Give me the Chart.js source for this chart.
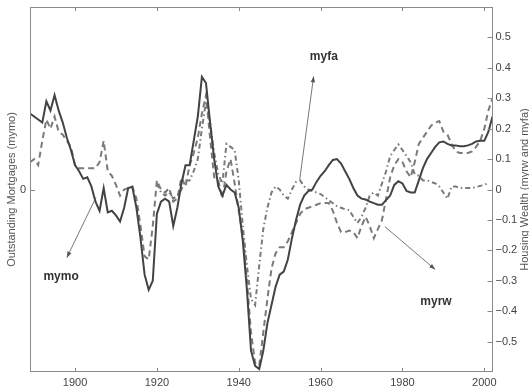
<!DOCTYPE html>
<html>
<head>
<meta charset="utf-8">
<script src="https://cdn.jsdelivr.net/npm/chart.js@4/dist/chart.umd.min.js"></script>
<style>
  html, body { margin: 0; padding: 0; background: #fff; }
  #wrap { width: 529px; height: 386px; }
</style>
</head>
<body>
<div id="wrap"><canvas id="c" width="529" height="386"></canvas></div>
<script>
/* ─── Data ─────────────────────────────────────────────── */

const years = [
  1889, 1890, 1891, 1892, 1893, 1894, 1895, 1896, 1897, 1898, 1899,
  1900, 1901, 1902, 1903, 1904, 1905, 1906, 1907, 1908, 1909,
  1910, 1911, 1912, 1913, 1914, 1915, 1916, 1917, 1918, 1919,
  1920, 1921, 1922, 1923, 1924, 1925, 1926, 1927, 1928, 1929,
  1930, 1931, 1932, 1933, 1934, 1935, 1936, 1937, 1938, 1939,
  1940, 1941, 1942, 1943, 1944, 1945, 1946, 1947, 1948, 1949,
  1950, 1951, 1952, 1953, 1954, 1955, 1956, 1957, 1958, 1959,
  1960, 1961, 1962, 1963, 1964, 1965, 1966, 1967, 1968, 1969,
  1970, 1971, 1972, 1973, 1974, 1975, 1976, 1977, 1978, 1979,
  1980, 1981, 1982, 1983, 1984, 1985, 1986, 1987, 1988, 1989,
  1990, 1991, 1992, 1993, 1994, 1995, 1996, 1997, 1998, 1999,
  2000, 2001, 2002
];

// Outstanding mortgages (solid)
const mymo = [
  0.25, 0.24, 0.23, 0.22, 0.29, 0.26, 0.31, 0.26, 0.22, 0.17, 0.13,
  0.08, 0.06, 0.035, 0.04, 0.01, -0.04, -0.07, 0.005, -0.075, -0.07,
  -0.085, -0.105, -0.06, 0.005, 0.009, -0.06, -0.16, -0.28, -0.33, -0.30,
  -0.08, -0.04, -0.03, -0.04, -0.12, -0.06, 0.02, 0.08, 0.08, 0.16,
  0.24, 0.37, 0.35, 0.22, 0.10, 0.01, -0.02, 0.015, 0.00, -0.01,
  -0.06, -0.17, -0.33, -0.53, -0.58, -0.59, -0.53, -0.44, -0.38, -0.32,
  -0.28, -0.27, -0.23, -0.16, -0.10, -0.05, -0.02, -0.005, 0.00, 0.025,
  0.045, 0.06, 0.08, 0.097, 0.10, 0.085, 0.06, 0.035, 0.005, -0.02,
  -0.03, -0.033, -0.04, -0.045, -0.05, -0.05, -0.035, -0.02, 0.015, 0.027,
  0.02, -0.005, -0.01, -0.01, 0.03, 0.07, 0.10, 0.12, 0.14, 0.155,
  0.158, 0.15, 0.145, 0.145, 0.142, 0.142, 0.145, 0.15, 0.158, 0.16,
  0.16, 0.19, 0.24
];

// Housing wealth, myrw (dashed)
const myrw = [
  0.09, 0.10, 0.08, 0.16, 0.23, 0.20, 0.24, 0.19, 0.18, 0.16, 0.14,
  0.08, 0.07, 0.07, 0.07, 0.07, 0.07, 0.09, 0.16, 0.06, 0.045,
  0.015, -0.02, 0.00, 0.005, 0.01, -0.03, -0.12, -0.22, -0.23, -0.12,
  0.03, 0.00, -0.01, 0.005, -0.04, -0.03, 0.04, 0.01, 0.08, 0.12,
  0.17, 0.25, 0.31, 0.17, 0.04, 0.03, -0.03, 0.06, 0.10, 0.02,
  -0.07, -0.15, -0.30, -0.47, -0.57, -0.58, -0.47, -0.36, -0.26, -0.21,
  -0.19, -0.19, -0.17, -0.14, -0.11, -0.08, -0.065, -0.06, -0.055, -0.05,
  -0.045, -0.044, -0.044, -0.07, -0.11, -0.14, -0.14, -0.135, -0.14, -0.16,
  -0.12, -0.09, -0.12, -0.16, -0.13, -0.10, -0.03, 0.04, 0.08, 0.10,
  0.09, 0.06, 0.04, 0.09, 0.15, 0.17, 0.19, 0.21, 0.22, 0.225,
  0.19, 0.18, 0.15, 0.125, 0.12, 0.12, 0.12, 0.125, 0.14, 0.16,
  0.20, 0.26, 0.30
];

// Housing wealth, myfa (dash-dot), starts 1920
const myfa = [
  null, null, null, null, null, null, null, null, null, null, null,
  null, null, null, null, null, null, null, null, null, null,
  null, null, null, null, null, null, null, null, null, null,
  0.02, -0.01, -0.02, -0.01, -0.03, -0.02, 0.00, 0.03, 0.03, 0.06,
  0.10, 0.20, 0.29, 0.22, 0.12, 0.05, 0.02, 0.15, 0.14, 0.13,
  0.03, -0.12, -0.25, -0.36, -0.38, -0.25, -0.13, -0.06, -0.01, 0.01,
  0.00, -0.02, -0.03, 0.00, 0.025, 0.03, 0.01, 0.00, -0.005, -0.01,
  -0.015, -0.025, -0.035, -0.045, -0.055, -0.06, -0.065, -0.068, -0.09, -0.11,
  -0.09, -0.06, -0.02, -0.01, -0.02, 0.02, 0.06, 0.11, 0.13, 0.148,
  0.13, 0.11, 0.09, 0.05, 0.045, 0.03, 0.03, 0.025, 0.02, 0.01,
  -0.01, -0.03, 0.01, 0.01, 0.005, 0.005, 0.005, 0.005, 0.008, 0.012,
  0.015, 0.022, null
];

const xTicks     = [1900, 1920, 1940, 1960, 1980, 2000];
const rightTicks = [-0.5, -0.4, -0.3, -0.2, -0.1, 0, 0.1, 0.2, 0.3, 0.4, 0.5];
const leftTicks  = [0];

// Arrow annotations, in data units: [label, fromYear, fromVal, toYear, toVal, labelYear, labelVal]
const notes = [
  ['mymo', 1905.1, -0.026, 1898.0, -0.224, 1896.6, -0.286],
  ['myfa', 1954.9,  0.033, 1958.3,  0.372, 1960.8,  0.437],
  ['myrw', 1975.7, -0.122, 1988.0, -0.263, 1988.2, -0.368]
];

/* ─── Helpers ──────────────────────────────────────────── */

const FONT = "'Liberation Sans', Arial, Helvetica, sans-serif";

function pts(vals) {
  return years.map((y, i) => ({ x: y, y: vals[i] }));
}

function fmtTick(v) {
  if (Math.abs(v) < 1e-9) return '0';
  return (v < 0 ? '\u2212' : '') + Math.abs(v).toFixed(1);
}

// frame, inward ticks, rotated axis titles, arrows
const decor = {
  id: 'decor',
  afterDraw(chart) {
    const { ctx, chartArea: a, scales } = chart;
    const line = (x1, y1, x2, y2) => { ctx.beginPath(); ctx.moveTo(x1, y1); ctx.lineTo(x2, y2); ctx.stroke(); };
    ctx.save();

    ctx.strokeStyle = '#8a8a8a';
    ctx.lineWidth = 1;
    ctx.strokeRect(Math.round(a.left) + 0.5, Math.round(a.top) + 0.5,
                   Math.round(a.right - a.left) - 1, Math.round(a.bottom - a.top) - 1);

    xTicks.forEach(v => {
      const px = Math.round(scales.x.getPixelForValue(v)) + 0.5;
      line(px, a.bottom, px, a.bottom - 4);
      line(px, a.top, px, a.top + 4);
    });
    rightTicks.forEach(v => {
      const py = Math.round(scales.y2.getPixelForValue(v)) + 0.5;
      line(a.right, py, a.right - 5, py);
    });
    leftTicks.forEach(v => {
      const py = Math.round(scales.y.getPixelForValue(v)) + 0.5;
      line(a.left, py, a.left + 5, py);
    });

    // axis titles, both reading bottom to top
    const midY = (a.top + a.bottom) / 2;
    ctx.fillStyle = '#555';
    ctx.font = '11px ' + FONT;
    ctx.textAlign = 'center';
    ctx.textBaseline = 'middle';
    [['Outstanding Mortgages (mymo)', 12], ['Housing Wealth (myrw and myfa)', 525]].forEach(([t, x]) => {
      ctx.save();
      ctx.translate(x, midY);
      ctx.rotate(-Math.PI / 2);
      ctx.fillText(t, 0, 0);
      ctx.restore();
    });

    // arrows + labels
    ctx.strokeStyle = '#555';
    ctx.fillStyle = '#555';
    ctx.lineWidth = 0.8;
    notes.forEach(([label, fx, fy, tx, ty]) => {
      const x1 = scales.x.getPixelForValue(fx), y1 = scales.y2.getPixelForValue(fy);
      const x2 = scales.x.getPixelForValue(tx), y2 = scales.y2.getPixelForValue(ty);
      line(x1, y1, x2, y2);
      const ang = Math.atan2(y2 - y1, x2 - x1), L = 6, W = 2.2;
      ctx.beginPath();
      ctx.moveTo(x2, y2);
      ctx.lineTo(x2 - L * Math.cos(ang) + W * Math.sin(ang), y2 - L * Math.sin(ang) - W * Math.cos(ang));
      ctx.lineTo(x2 - L * Math.cos(ang) - W * Math.sin(ang), y2 - L * Math.sin(ang) + W * Math.cos(ang));
      ctx.closePath();
      ctx.fill();
    });
    ctx.fillStyle = '#333';
    ctx.font = 'bold 12px ' + FONT;
    notes.forEach(([label, , , , , lx, ly]) => {
      ctx.fillText(label, scales.x.getPixelForValue(lx), scales.y2.getPixelForValue(ly));
    });

    ctx.restore();
  }
};

/* ─── Chart ────────────────────────────────────────────── */

const tickFont = { family: FONT, size: 11 };

function fixH(s, h) { s.height = h; s.paddingLeft = 0; s.paddingRight = 0; }
function fixW(s, w) { s.width = w; s.paddingTop = 0; s.paddingBottom = 0; }

new Chart(document.getElementById('c').getContext('2d'), {
  type: 'line',
  data: {
    datasets: [
      {
        label: 'mymo',
        data: pts(mymo),
        yAxisID: 'y',
        borderColor: '#434343',
        borderWidth: 2,
        pointRadius: 0,
        tension: 0
      },
      {
        label: 'myrw',
        data: pts(myrw),
        yAxisID: 'y2',
        borderColor: '#7a7a7a',
        borderWidth: 2,
        borderDash: [6, 4],
        pointRadius: 0,
        tension: 0
      },
      {
        label: 'myfa',
        data: pts(myfa),
        yAxisID: 'y2',
        borderColor: '#7a7a7a',
        borderWidth: 2,
        borderDash: [5, 3, 1.5, 3],
        pointRadius: 0,
        tension: 0,
        spanGaps: false
      }
    ]
  },
  options: {
    responsive: false,
    animation: false,
    devicePixelRatio: 1,
    layout: { padding: { top: 7, left: 0, right: 0, bottom: 0 } },
    plugins: { legend: { display: false }, tooltip: { enabled: false } },
    scales: {
      x: {
        type: 'linear',
        min: 1889,
        max: 2002,
        grid: { display: false, drawTicks: false },
        border: { display: false },
        afterBuildTicks: s => { s.ticks = xTicks.map(v => ({ value: v })); },
        afterFit: s => fixH(s, 14),
        ticks: { font: tickFont, color: '#444', padding: 4, maxRotation: 0, callback: v => String(v) }
      },
      y: {
        position: 'left',
        min: -0.6,
        max: 0.6,
        grid: { display: false, drawTicks: false },
        border: { display: false },
        afterBuildTicks: s => { s.ticks = leftTicks.map(v => ({ value: v })); },
        afterFit: s => fixW(s, 30),
        ticks: { font: tickFont, color: '#444', padding: 4, callback: fmtTick }
      },
      y2: {
        position: 'right',
        min: -0.6,
        max: 0.6,
        grid: { display: false, drawTicks: false },
        border: { display: false },
        afterBuildTicks: s => { s.ticks = rightTicks.map(v => ({ value: v })); },
        afterFit: s => fixW(s, 36.5),
        ticks: { font: tickFont, color: '#444', padding: 3, callback: fmtTick }
      }
    }
  },
  plugins: [decor]
});
</script>
</body>
</html>
